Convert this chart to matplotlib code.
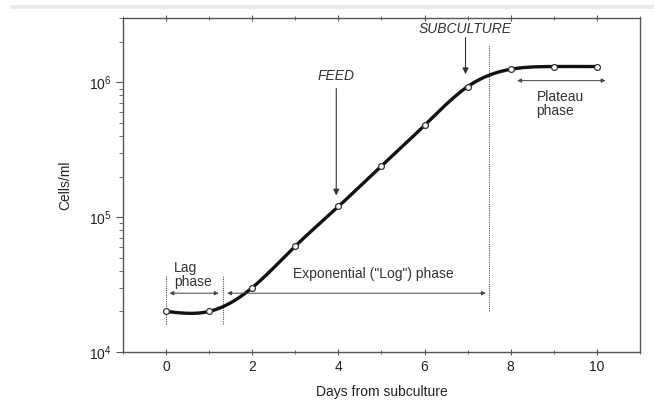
import numpy as np
import matplotlib.pyplot as plt
from matplotlib.ticker import LogLocator, FixedLocator

plt.rcParams['font.family'] = ['Liberation Sans', 'DejaVu Sans']
plt.rcParams['mathtext.fontset'] = 'custom'
plt.rcParams['mathtext.rm'] = 'Liberation Sans'
plt.rcParams['mathtext.it'] = 'Liberation Sans:italic'

# cell counts per day after subculture
days = [0, 1, 2, 3, 4, 5, 6, 7, 8, 9, 10]
cells = [2.0e4, 2.0e4, 3.0e4, 6.1e4, 1.2e5, 2.4e5, 4.8e5, 9.3e5, 1.25e6, 1.31e6, 1.31e6]


def natural_spline(x, y, xs):
    # natural cubic spline, solved directly with numpy
    x = np.asarray(x, float)
    y = np.asarray(y, float)
    n = len(x)
    h = np.diff(x)
    A = np.zeros((n, n))
    b = np.zeros(n)
    A[0, 0] = A[-1, -1] = 1
    for i in range(1, n - 1):
        A[i, i - 1] = h[i - 1]
        A[i, i] = 2 * (h[i - 1] + h[i])
        A[i, i + 1] = h[i]
        b[i] = 3 * ((y[i + 1] - y[i]) / h[i] - (y[i] - y[i - 1]) / h[i - 1])
    c = np.linalg.solve(A, b)
    out = np.empty_like(xs)
    for j, t in enumerate(xs):
        i = min(max(np.searchsorted(x, t) - 1, 0), n - 2)
        bi = (y[i + 1] - y[i]) / h[i] - h[i] * (2 * c[i] + c[i + 1]) / 3
        di = (c[i + 1] - c[i]) / (3 * h[i])
        dt = t - x[i]
        out[j] = y[i] + bi * dt + c[i] * dt ** 2 + di * dt ** 3
    return out


fig = plt.figure(figsize=(6.54, 4.01), dpi=100)
# light strip along the top edge
fig.patches.append(plt.Rectangle((0.015, 0.978), 0.985, 0.01, transform=fig.transFigure,
                                 color='#ececec', lw=0, zorder=0))
ax = fig.add_axes([123 / 654, 1 - 352 / 401, (640 - 123) / 654, (352 - 18) / 401])

xs = np.linspace(0, 10, 400)
ys = 10 ** natural_spline(days, np.log10(cells), xs)
ax.plot(xs, ys, color='#111111', lw=2.4, zorder=3)
ax.plot(days, cells, 'o', ms=4.2, mfc='white', mec='#333333', mew=0.9, zorder=4)

ax.set_yscale('log')
ax.set_xlim(-1, 11)
ax.set_ylim(1e4, 3e6)
ax.set_xticks([0, 2, 4, 6, 8, 10])
ax.xaxis.set_minor_locator(FixedLocator([-1, 1, 3, 5, 7, 9, 11]))
ax.yaxis.set_major_locator(LogLocator(base=10, numticks=10))
ax.yaxis.set_minor_locator(LogLocator(base=10, subs=np.arange(2, 10), numticks=20))

gray = '#555555'
for s in ax.spines.values():
    s.set_color(gray)
    s.set_linewidth(1.0)
ax.tick_params(which='both', direction='out', color=gray, labelsize=10, labelcolor='#222222')
ax.tick_params(which='major', length=5)
ax.tick_params(which='minor', length=3)
ax.tick_params(axis='x', which='both', top=True, direction='inout')

ax.set_xlabel('Days from subculture', fontsize=10, color='#222222', labelpad=8)
ax.set_ylabel('Cells/ml', fontsize=10, color='#222222', labelpad=12)

dot = dict(color='#555555', lw=0.8, ls=(0, (1, 1)))
ax.plot([0, 0], [1.6e4, 3.7e4], **dot)
ax.plot([1.32, 1.32], [1.6e4, 3.7e4], **dot)
ax.plot([7.5, 7.5], [2.0e4, 1.9e6], **dot)

arr = dict(arrowstyle='<|-|>', color='#444444', lw=0.7, mutation_scale=6, shrinkA=0, shrinkB=0)
ax.annotate('', xy=(1.22, 2.73e4), xytext=(0.08, 2.73e4), arrowprops=arr)
ax.annotate('', xy=(7.42, 2.73e4), xytext=(1.42, 2.73e4), arrowprops=arr)
ax.annotate('', xy=(10.2, 1.03e6), xytext=(8.15, 1.03e6), arrowprops=arr)

down = dict(arrowstyle='-|>', color='#333333', lw=0.8, mutation_scale=9, shrinkA=0, shrinkB=0)
ax.annotate('', xy=(3.95, 1.45e5), xytext=(3.95, 9.0e5), arrowprops=down)
ax.annotate('', xy=(6.95, 1.15e6), xytext=(6.95, 2.15e6), arrowprops=down)

txt = dict(fontsize=10, color='#333333')
ax.text(3.95, 1.12e6, 'FEED', ha='center', va='center', style='italic', **txt)
ax.text(6.95, 2.5e6, 'SUBCULTURE', ha='center', va='center', style='italic', **txt)
ax.text(0.18, 3.7e4, 'Lag\nphase', ha='left', va='center', linespacing=1.0, **txt)
ax.text(4.8, 3.8e4, 'Exponential ("Log") phase', ha='center', va='center', **txt)
ax.text(8.6, 6.9e5, 'Plateau\nphase', ha='left', va='center', linespacing=1.0, **txt)

fig.savefig('out.png', dpi=100)
